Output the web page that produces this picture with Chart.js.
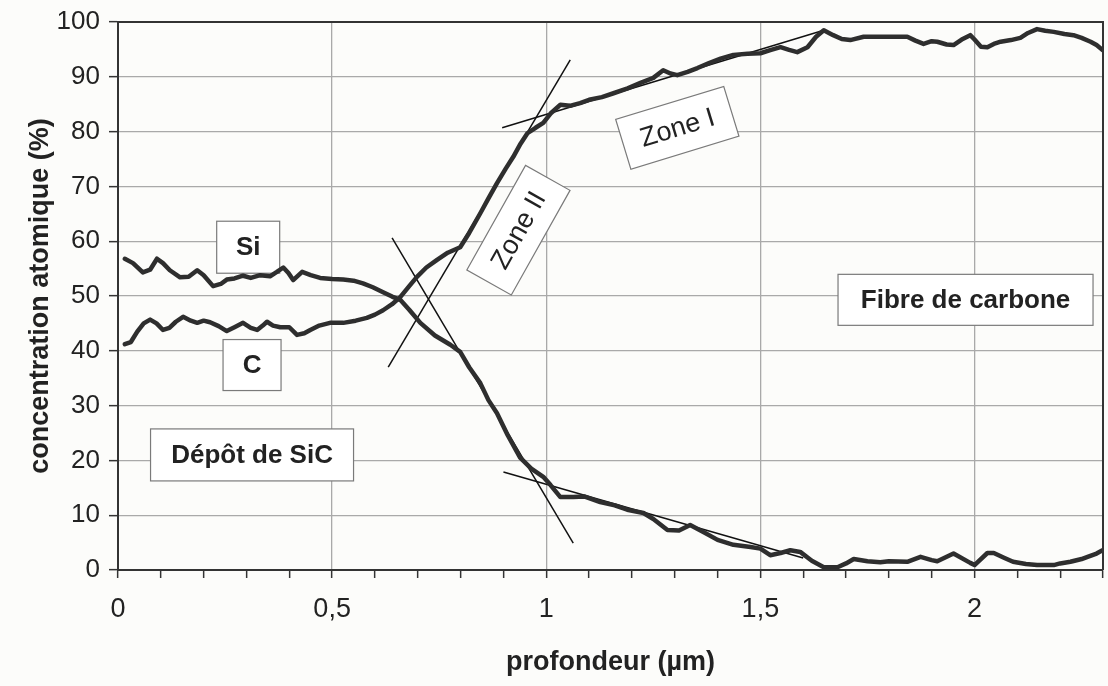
<!DOCTYPE html>
<html>
<head>
<meta charset="utf-8">
<script src="https://cdn.jsdelivr.net/npm/chart.js@4/dist/chart.umd.min.js"></script>
<style>
  html, body { margin: 0; padding: 0; background: #fcfcfa; }
  #wrap { width: 1108px; height: 686px; }
</style>
</head>
<body>
<div id="wrap"><canvas id="c" width="1108" height="686"></canvas></div>
<script>
// ---- Data ----
const siX = [0.016,0.035,0.058,0.075,0.091,0.105,0.121,0.145,0.165,0.185,0.200,0.222,0.240,0.254,0.272,0.292,0.310,0.332,0.355,0.371,0.386,0.398,0.409,0.430,0.450,0.472,0.500,0.526,0.550,0.572,0.595,0.619,0.640,0.659,0.680,0.706,0.740,0.776,0.799,0.820,0.846,0.865,0.885,0.910,0.939,0.965,0.993,1.010,1.033,1.063,1.090,1.126,1.160,1.189,1.227,1.250,1.283,1.310,1.336,1.370,1.400,1.437,1.477,1.500,1.523,1.547,1.570,1.593,1.620,1.648,1.680,1.700,1.718,1.750,1.780,1.800,1.843,1.874,1.900,1.913,1.951,1.990,2.000,2.030,2.045,2.070,2.090,2.120,2.146,2.185,2.200,2.224,2.250,2.264,2.285,2.299];
const siY = [56.8,56.0,54.3,54.8,56.8,56.0,54.7,53.4,53.5,54.7,53.8,51.8,52.2,53.0,53.2,53.7,53.3,53.8,53.6,54.4,55.2,54.2,52.9,54.4,53.8,53.3,53.1,53.0,52.8,52.3,51.6,50.7,49.9,49.3,47.5,45.1,42.8,41.1,39.8,37.0,34.1,31.0,28.6,24.6,20.5,18.5,17.0,15.5,13.3,13.3,13.4,12.4,11.8,11.0,10.4,9.3,7.3,7.2,8.2,6.8,5.5,4.6,4.2,3.9,2.7,3.1,3.6,3.3,1.7,0.5,0.5,1.2,2.0,1.6,1.4,1.6,1.5,2.4,1.8,1.6,3.0,1.3,0.9,3.1,3.1,2.2,1.5,1.1,0.9,0.9,1.2,1.5,2.0,2.4,3.0,3.6];

const cX = [0.016,0.030,0.045,0.060,0.075,0.090,0.105,0.120,0.135,0.152,0.170,0.185,0.200,0.215,0.235,0.254,0.272,0.292,0.310,0.325,0.338,0.348,0.362,0.379,0.400,0.418,0.435,0.449,0.470,0.495,0.526,0.555,0.581,0.600,0.619,0.640,0.659,0.680,0.698,0.720,0.745,0.770,0.799,0.820,0.846,0.865,0.885,0.905,0.923,0.940,0.956,0.975,0.993,1.010,1.033,1.055,1.079,1.100,1.130,1.157,1.190,1.220,1.250,1.273,1.290,1.306,1.330,1.353,1.380,1.407,1.437,1.470,1.500,1.525,1.547,1.567,1.586,1.610,1.630,1.648,1.670,1.690,1.710,1.741,1.770,1.796,1.820,1.843,1.862,1.881,1.900,1.913,1.935,1.951,1.970,1.990,2.000,2.015,2.030,2.045,2.061,2.085,2.107,2.125,2.146,2.165,2.185,2.210,2.231,2.250,2.271,2.285,2.299];
const cY = [41.2,41.6,43.5,45.0,45.7,45.0,43.8,44.2,45.3,46.2,45.5,45.1,45.5,45.2,44.5,43.6,44.3,45.1,44.2,43.8,44.6,45.3,44.6,44.3,44.3,42.9,43.2,43.8,44.6,45.1,45.1,45.5,46.0,46.6,47.4,48.5,49.8,51.8,53.5,55.2,56.6,57.9,58.9,61.5,65.1,67.8,70.6,73.2,75.4,77.8,79.7,80.7,81.6,83.3,84.9,84.7,85.2,85.8,86.3,87.0,87.9,88.9,89.8,91.2,90.6,90.3,90.9,91.6,92.5,93.3,94.0,94.2,94.3,94.9,95.4,94.9,94.5,95.4,97.3,98.5,97.6,96.9,96.7,97.3,97.3,97.3,97.3,97.3,96.6,96.0,96.5,96.4,95.9,95.8,96.8,97.6,96.8,95.5,95.4,96.0,96.4,96.7,97.1,98.0,98.7,98.4,98.2,97.8,97.6,97.1,96.4,95.8,94.9];

// tangent lines (two end points each)
const tangentSiZoneII = [[0.640, 60.6], [1.063, 4.9]];
const tangentCZoneII  = [[0.631, 37.0], [1.056, 93.1]];
const tangentCZoneI   = [[0.897, 80.7], [1.648, 98.5]];
const tangentSiZoneI  = [[0.900, 17.9], [1.600, 2.2]];

// axis ticks
const xTickValues = [0,0.1,0.2,0.3,0.4,0.5,0.6,0.7,0.8,0.9,1,1.1,1.2,1.3,1.4,1.5,1.6,1.7,1.8,1.9,2,2.1,2.2,2.3];
const xLabelValues = [0, 0.5, 1, 1.5, 2];
const xLabelTexts = ['0', '0,5', '1', '1,5', '2'];
const yTickValues = [0,10,20,30,40,50,60,70,80,90,100];

// text labels
const labelTexts = ['Si', 'C', 'Dépôt de SiC', 'Fibre de carbone', 'Zone I', 'Zone II'];
const labelX = [0.304, 0.313, 0.313, 1.979, 1.306, 0.935];
const labelY = [58.9, 37.4, 21.0, 49.3, 80.7, 62.0];

// ---- Presentation ----
const FONT = "'Liberation Sans', Arial, sans-serif";
const labelStyle = [
  {w: 63,  h: 52, rot: 0,     bold: true,  size: 26},
  {w: 58,  h: 51, rot: 0,     bold: true,  size: 26},
  {w: 203, h: 52, rot: 0,     bold: true,  size: 26},
  {w: 255, h: 51, rot: 0,     bold: true,  size: 26},
  {w: 113, h: 52, rot: -17,   bold: false, size: 27},
  {w: 120, h: 51, rot: -60.7, bold: false, size: 27}
];

const toPts = (xs, ys) => xs.map((x, i) => ({x: x, y: ys[i]}));
const seg = s => s.map(p => ({x: p[0], y: p[1]}));

const curveStyle = {showLine: true, borderColor: '#2e2e2e', borderWidth: 4.5, pointRadius: 0, tension: 0, borderJoinStyle: 'round', borderCapStyle: 'round'};
const tanStyle = {showLine: true, borderColor: '#111', borderWidth: 1.5, pointRadius: 0, tension: 0};

const frame = {
  id: 'frame',
  afterDraw(chart) {
    const {ctx, chartArea: a} = chart;
    ctx.save();
    ctx.strokeStyle = '#333';
    ctx.lineWidth = 2;
    ctx.beginPath();
    ctx.moveTo(a.left, a.top);
    ctx.lineTo(a.right, a.top);
    ctx.lineTo(a.right, a.bottom);
    ctx.stroke();
    ctx.restore();
  }
};

const boxes = {
  id: 'boxes',
  beforeDatasetsDraw(chart) {
    const {ctx, scales: {x, y}} = chart;
    ctx.save();
    labelTexts.forEach((t, i) => {
      const st = labelStyle[i];
      const px = x.getPixelForValue(labelX[i]);
      const py = y.getPixelForValue(labelY[i]);
      ctx.save();
      ctx.translate(px, py);
      ctx.rotate(st.rot * Math.PI / 180);
      ctx.fillStyle = '#ffffff';
      ctx.fillRect(-st.w / 2, -st.h / 2, st.w, st.h);
      ctx.strokeStyle = '#7a7a7a';
      ctx.lineWidth = 1.2;
      ctx.strokeRect(-st.w / 2, -st.h / 2, st.w, st.h);
      ctx.fillStyle = '#222';
      ctx.font = (st.bold ? 'bold ' : '') + st.size + 'px ' + FONT;
      ctx.textAlign = 'center';
      ctx.textBaseline = 'middle';
      ctx.fillText(t, 0, 1);
      ctx.restore();
    });
    ctx.restore();
  }
};

new Chart(document.getElementById('c'), {
  type: 'scatter',
  data: {
    datasets: [
      Object.assign({label: 'Si', data: toPts(siX, siY)}, curveStyle),
      Object.assign({label: 'C', data: toPts(cX, cY)}, curveStyle),
      Object.assign({label: 't1', data: seg(tangentSiZoneII)}, tanStyle),
      Object.assign({label: 't2', data: seg(tangentCZoneII)}, tanStyle),
      Object.assign({label: 't3', data: seg(tangentCZoneI)}, tanStyle),
      Object.assign({label: 't4', data: seg(tangentSiZoneI)}, tanStyle)
    ]
  },
  options: {
    responsive: false,
    animation: false,
    layout: {padding: {left: 0, right: 5, top: 22, bottom: 0}},
    plugins: {legend: {display: false}, tooltip: {enabled: false}},
    scales: {
      x: {
        type: 'linear', min: 0, max: 2.3,
        afterBuildTicks: s => { s.ticks = xTickValues.map(v => ({value: v})); },
        afterFit: s => { s.height = 116; s.paddingLeft = 0; s.paddingRight = 0; },
        ticks: {
          autoSkip: false, maxRotation: 0, minRotation: 0,
          color: '#222', padding: 15,
          font: {family: FONT, size: 27},
          callback: v => {
            const k = xLabelValues.findIndex(t => Math.abs(t - v) < 1e-6);
            return k >= 0 ? xLabelTexts[k] : '';
          }
        },
        grid: {
          color: c => (c.tick && xLabelValues.some(t => Math.abs(t - c.tick.value) < 1e-6)) ? '#a9a9a9' : 'rgba(0,0,0,0)',
          tickColor: '#333', tickLength: 8, tickWidth: 1.5, lineWidth: 1.3
        },
        border: {color: '#333', width: 2},
        title: {display: true, text: 'profondeur (µm)', color: '#222',
          font: {family: FONT, size: 27, weight: 'bold'}, padding: {top: 0, bottom: 7}}
      },
      y: {
        min: 0, max: 100,
        afterBuildTicks: s => { s.ticks = yTickValues.map(v => ({value: v})); },
        afterFit: s => { s.width = 118; s.paddingTop = 0; s.paddingBottom = 0; },
        ticks: {color: '#222', padding: 9, font: {family: FONT, size: 26}},
        grid: {color: '#a9a9a9', tickColor: '#333', tickLength: 9, tickWidth: 1.5, lineWidth: 1.3},
        border: {color: '#333', width: 2},
        title: {display: true, text: 'concentration atomique (%)', color: '#222',
          font: {family: FONT, size: 27, weight: 'bold'}, padding: {top: 24, bottom: 0}}
      }
    }
  },
  plugins: [boxes, frame]
});
</script>
</body>
</html>
